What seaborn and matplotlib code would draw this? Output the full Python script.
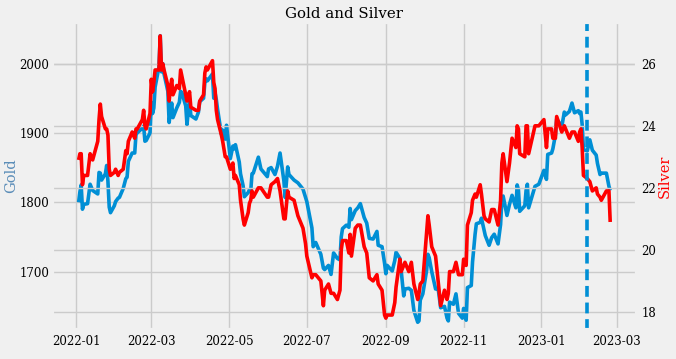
import matplotlib
matplotlib.use("Agg")
import matplotlib.pyplot as plt
import matplotlib.dates as mdates
import pandas as pd
import seaborn as sns

dates = [
    "2022-01-03", "2022-01-04", "2022-01-05", "2022-01-06", "2022-01-07", "2022-01-10", "2022-01-12",
    "2022-01-14", "2022-01-18", "2022-01-19", "2022-01-20", "2022-01-21", "2022-01-24", "2022-01-25",
    "2022-01-26", "2022-01-27", "2022-01-28", "2022-01-31", "2022-02-01", "2022-02-03", "2022-02-04",
    "2022-02-07", "2022-02-09", "2022-02-10", "2022-02-11", "2022-02-14", "2022-02-16", "2022-02-17",
    "2022-02-18", "2022-02-22", "2022-02-23", "2022-02-24", "2022-02-25", "2022-02-28", "2022-03-01",
    "2022-03-02", "2022-03-03", "2022-03-04", "2022-03-07", "2022-03-08", "2022-03-09", "2022-03-10",
    "2022-03-11", "2022-03-14", "2022-03-15", "2022-03-16", "2022-03-17", "2022-03-18", "2022-03-21",
    "2022-03-23", "2022-03-24", "2022-03-25", "2022-03-28", "2022-03-29", "2022-03-31", "2022-04-01",
    "2022-04-05", "2022-04-07", "2022-04-08", "2022-04-11", "2022-04-12", "2022-04-13", "2022-04-14",
    "2022-04-18", "2022-04-19", "2022-04-20", "2022-04-21", "2022-04-22", "2022-04-25", "2022-04-26",
    "2022-04-28", "2022-04-29", "2022-05-02", "2022-05-04", "2022-05-05", "2022-05-06", "2022-05-09",
    "2022-05-10", "2022-05-12", "2022-05-13", "2022-05-16", "2022-05-17", "2022-05-18", "2022-05-19",
    "2022-05-20", "2022-05-24", "2022-05-26", "2022-05-31", "2022-06-01", "2022-06-03", "2022-06-06",
    "2022-06-08", "2022-06-10", "2022-06-13", "2022-06-14", "2022-06-16", "2022-06-17", "2022-06-21",
    "2022-06-24", "2022-06-28", "2022-06-30", "2022-07-01", "2022-07-05", "2022-07-06", "2022-07-08",
    "2022-07-12", "2022-07-14", "2022-07-15", "2022-07-18", "2022-07-20", "2022-07-22", "2022-07-25",
    "2022-07-27", "2022-07-28", "2022-07-29", "2022-08-01", "2022-08-03", "2022-08-04", "2022-08-05",
    "2022-08-08", "2022-08-10", "2022-08-12", "2022-08-15", "2022-08-17", "2022-08-19", "2022-08-22",
    "2022-08-25", "2022-08-26", "2022-08-29", "2022-08-31", "2022-09-01", "2022-09-02", "2022-09-06",
    "2022-09-08", "2022-09-09", "2022-09-12", "2022-09-13", "2022-09-15", "2022-09-16", "2022-09-19",
    "2022-09-21", "2022-09-23", "2022-09-26", "2022-09-27", "2022-09-28", "2022-09-30", "2022-10-03",
    "2022-10-04", "2022-10-05", "2022-10-07", "2022-10-10", "2022-10-12", "2022-10-14", "2022-10-17",
    "2022-10-19", "2022-10-20", "2022-10-21", "2022-10-24", "2022-10-26", "2022-10-28", "2022-10-31",
    "2022-11-01", "2022-11-03", "2022-11-04", "2022-11-07", "2022-11-08", "2022-11-10", "2022-11-11",
    "2022-11-14", "2022-11-15", "2022-11-17", "2022-11-18", "2022-11-21", "2022-11-23", "2022-11-25",
    "2022-11-28", "2022-11-30", "2022-12-01", "2022-12-02", "2022-12-05", "2022-12-07", "2022-12-09",
    "2022-12-12", "2022-12-13", "2022-12-14", "2022-12-15", "2022-12-19", "2022-12-20", "2022-12-21",
    "2022-12-22", "2022-12-27", "2022-12-30", "2023-01-03", "2023-01-05", "2023-01-06", "2023-01-09",
    "2023-01-10", "2023-01-12", "2023-01-13", "2023-01-17", "2023-01-19", "2023-01-20", "2023-01-23",
    "2023-01-25", "2023-01-27", "2023-01-30", "2023-01-31", "2023-02-01", "2023-02-02", "2023-02-03",
    "2023-02-06", "2023-02-08", "2023-02-10", "2023-02-13", "2023-02-14", "2023-02-16", "2023-02-17",
    "2023-02-21", "2023-02-23", "2023-02-24",
]

gold = [
    1800, 1815, 1825, 1790, 1797, 1798, 1826,
    1817, 1812, 1843, 1842, 1832, 1841, 1853,
    1830, 1793, 1785, 1795, 1801, 1806, 1807,
    1820, 1834, 1836, 1859, 1871, 1871, 1898,
    1900, 1907, 1910, 1888, 1889, 1900, 1944,
    1928, 1936, 1966, 1995, 2040, 1988, 2000,
    1985, 1960, 1915, 1930, 1943, 1922, 1936,
    1944, 1960, 1958, 1939, 1912, 1949, 1925,
    1920, 1930, 1945, 1950, 1972, 1978, 1975,
    1985, 1950, 1958, 1948, 1934, 1898, 1904,
    1891, 1911, 1863, 1881, 1877, 1883, 1858,
    1841, 1824, 1808, 1814, 1818, 1816, 1841,
    1842, 1865, 1848, 1837, 1848, 1850, 1840,
    1852, 1871, 1831, 1807, 1851, 1840, 1832,
    1828, 1819, 1807, 1801, 1763, 1736, 1742,
    1725, 1705, 1703, 1709, 1696, 1727, 1719,
    1717, 1750, 1762, 1767, 1764, 1791, 1775,
    1788, 1792, 1798, 1778, 1770, 1748, 1747,
    1758, 1738, 1736, 1712, 1697, 1709, 1701,
    1716, 1728, 1719, 1702, 1665, 1675, 1676,
    1673, 1644, 1627, 1629, 1659, 1668, 1702,
    1725, 1720, 1700, 1675, 1676, 1648, 1650,
    1633, 1629, 1656, 1653, 1668, 1640, 1633,
    1647, 1630, 1677, 1680, 1714, 1754, 1769,
    1771, 1777, 1760, 1752, 1738, 1749, 1754,
    1740, 1768, 1803, 1809, 1781, 1797, 1810,
    1792, 1825, 1818, 1787, 1795, 1817, 1826,
    1792, 1823, 1826, 1846, 1833, 1869, 1871,
    1877, 1897, 1920, 1909, 1930, 1926, 1931,
    1943, 1929, 1932, 1928, 1930, 1912, 1876,
    1874, 1890, 1875, 1868, 1856, 1840, 1842,
    1842, 1823, 1817,
]

silver = [
    22.9, 23.1, 23.1, 22.1, 22.4, 22.4, 23.1,
    22.9, 23.5, 24.2, 24.7, 24.3, 23.9, 23.9,
    23.7, 22.6, 22.4, 22.5, 22.6, 22.4, 22.5,
    22.6, 23.2, 23.1, 23.5, 23.8, 23.6, 23.9,
    23.9, 24.2, 24.5, 24.0, 23.9, 24.4, 25.5,
    25.1, 25.4, 25.8, 25.8, 26.9, 25.8, 26.0,
    25.8, 25.3, 24.8, 25.2, 25.5, 25.0, 25.3,
    25.2, 25.8, 25.6, 25.0, 24.8, 25.1, 24.6,
    24.5, 24.5, 24.8, 25.0, 25.7, 25.9, 25.8,
    26.1, 25.4, 25.2, 24.5, 24.2, 23.7, 23.5,
    23.0, 23.0, 22.6, 22.8, 22.3, 22.4, 22.1,
    21.6, 21.0, 20.8, 21.2, 21.5, 21.6, 21.9,
    21.7, 22.0, 22.0, 21.7, 21.7, 22.1, 22.2,
    22.3, 21.9, 21.0, 21.0, 21.9, 21.7, 21.6,
    21.1, 20.7, 20.2, 19.8, 19.1, 19.2, 19.2,
    19.0, 18.2, 18.7, 18.9, 18.6, 18.6, 18.4,
    18.7, 20.0, 20.3, 20.3, 19.9, 20.5, 19.8,
    20.7, 20.8, 20.8, 20.1, 19.9, 19.1, 19.0,
    19.2, 18.9, 18.7, 17.9, 17.8, 17.9, 17.9,
    18.3, 18.8, 19.7, 19.3, 19.5, 19.6, 19.3,
    19.6, 18.9, 18.4, 18.6, 18.9, 19.0, 20.6,
    21.1, 20.8, 20.1, 19.8, 19.0, 18.2, 18.7,
    18.4, 18.6, 19.3, 19.3, 19.6, 19.2, 19.2,
    19.7, 19.5, 20.8, 21.2, 21.6, 21.8, 21.7,
    22.1, 21.8, 21.1, 21.0, 20.9, 21.3, 21.3,
    20.8, 21.6, 22.8, 23.1, 22.2, 22.8, 23.6,
    23.3, 24.0, 23.9, 23.1, 23.0, 24.0, 24.0,
    23.1, 24.0, 24.0, 24.2, 23.3, 23.9, 23.9,
    23.6, 23.6, 24.3, 23.8, 24.0, 23.9, 23.6,
    23.8, 23.8, 23.5, 23.8, 23.9, 23.3, 22.4,
    22.3, 22.2, 21.9, 22.0, 21.8, 21.7, 21.6,
    21.9, 21.9, 20.9,
]

marker_date = "2023-02-06"
title = "Gold and Silver"

df = pd.DataFrame({"date": pd.to_datetime(dates), "Gold": gold, "Silver": silver})

plt.style.use("fivethirtyeight")
plt.rcParams["font.family"] = ["DejaVu Serif"]

fig = plt.figure(figsize=(6.76, 3.59), dpi=100)
fig.patch.set_facecolor("#f0f0f0")
ax = fig.add_axes([0.077, 0.081, 0.865, 0.858])

sns.lineplot(data=df, x="date", y="Gold", ax=ax, color="#008fd5", linewidth=2.6)
ax.set_ylim(1616, 2060)
ax.set_ylabel("Gold", color="#5b8db8", fontsize=10.5)
ax.yaxis.set_label_coords(-0.058, 0.5)
ax.set_xlabel("")
ax.xaxis.set_major_locator(mdates.MonthLocator(bymonth=[1, 3, 5, 7, 9, 11]))
ax.xaxis.set_major_formatter(mdates.DateFormatter("%Y-%m"))
ax.tick_params(axis="x", labelsize=8.5)
ax.tick_params(axis="y", labelsize=8.5, pad=2)
ax.set_yticks([1700, 1800, 1900, 2000])

ax2 = ax.twinx()
sns.lineplot(data=df, x="date", y="Silver", ax=ax2, color="red", linewidth=2.6)
ax2.set_ylim(17.42, 27.35)
ax2.set_yticks([18, 20, 22, 24, 26])
ax2.set_ylabel("Silver", color="red", fontsize=10.5)
ax2.yaxis.set_label_coords(1.036, 0.5)
ax2.tick_params(axis="y", labelsize=8.5)
ax2.axvline(pd.Timestamp(marker_date), color="#008fd5", linestyle="--", linewidth=2.6, dashes=(3, 1.6))

ax.set_title(title, fontsize=10.8, pad=3)

fig.savefig("out.png", dpi=100, facecolor=fig.get_facecolor())
